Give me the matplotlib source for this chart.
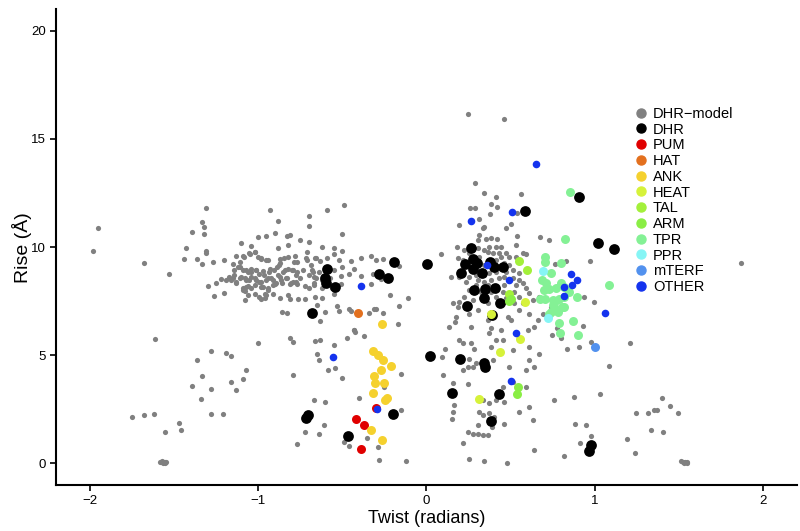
import matplotlib
matplotlib.use("Agg")
import matplotlib.pyplot as plt
from matplotlib.lines import Line2D
import numpy as np

plt.rcParams['font.family'] = ['Liberation Sans', 'DejaVu Sans']

# (twist, rise) pairs
dhr_model = np.array([
    # far left / lower left
    (-1.95, 10.87), (-1.98, 9.80), (-1.68, 9.28), (-1.53, 8.78),
    (-1.61, 5.73), (-1.28, 5.19), (-1.36, 4.78), (-1.19, 5.11), (-1.16, 4.95), (-1.07, 4.34),
    (-1.33, 4.04), (-1.39, 3.60), (-1.28, 3.44), (-1.16, 3.78), (-1.09, 3.92), (-1.13, 3.41),
    (-1.34, 3.00), (-1.28, 2.28), (-1.21, 2.27), (-1.75, 2.14), (-1.68, 2.22), (-1.62, 2.28),
    (-1.47, 1.87), (-1.46, 1.56), (-1.55, 1.45),
    (-1.58, 0.05), (-1.565, 0.00), (-1.55, 0.08), (-1.57, 0.10), (-1.555, 0.02), (-1.545, 0.05),
    # left cluster
    (-1.31, 11.79), (-0.93, 11.70), (-0.59, 11.73), (-0.49, 11.96), (-0.70, 11.43), (-1.33, 11.14),
    (-1.32, 10.91), (-1.32, 10.63), (-1.39, 10.71), (-0.88, 11.19), (-0.70, 10.97), (-0.50, 10.60),
    (-1.00, 10.48), (-0.95, 10.52), (-0.90, 10.66), (-0.83, 10.51), (-0.81, 10.58), (-0.75, 10.32),
    (-0.70, 10.26), (-1.10, 10.17), (-1.04, 10.06), (-0.82, 10.11), (-1.43, 9.94), (-1.31, 9.84),
    (-1.31, 9.72), (-0.88, 9.94), (-0.62, 10.00), (-0.55, 9.97), (-0.50, 9.83), (-0.71, 9.78),
    (-0.78, 9.58), (-1.44, 9.44), (-1.36, 9.44), (-1.33, 9.24), (-1.27, 9.32), (-1.20, 9.40),
    (-1.13, 9.58), (-1.09, 9.58), (-1.05, 9.67), (-1.02, 9.78), (-0.98, 9.43), (-0.94, 9.40),
    (-0.87, 9.44), (-0.82, 9.55), (-0.77, 9.32), (-0.71, 9.40), (-0.66, 9.52), (-0.63, 9.37),
    (-0.59, 9.52), (-0.55, 9.67), (-0.52, 9.40), (-0.45, 9.34), (-0.39, 9.52), (-0.33, 9.60),
    (-0.30, 9.40), (-0.26, 9.44), (-0.43, 9.01), (-0.39, 8.66), (-0.32, 8.75), (-0.27, 8.52),
    (-1.15, 9.24), (-1.14, 8.96), (-1.11, 9.06), (-1.07, 8.93), (-1.04, 8.86), (-1.01, 8.96),
    (-0.97, 8.90), (-0.93, 9.01), (-0.89, 9.06), (-0.87, 9.27), (-0.84, 8.93), (-0.80, 8.96),
    (-0.77, 8.86), (-0.73, 8.96), (-0.68, 8.96), (-0.64, 8.86), (-0.55, 8.93), (-0.50, 9.06),
    (-0.46, 8.78), (-1.17, 8.63), (-1.15, 8.55), (-1.10, 8.63), (-1.07, 8.50), (-1.04, 8.63),
    (-1.01, 8.47), (-0.98, 8.39), (-0.94, 8.59), (-0.91, 8.50), (-0.87, 8.63), (-0.83, 8.55),
    (-0.79, 8.39), (-0.75, 8.59), (-0.70, 8.70), (-0.67, 8.63), (-0.62, 8.47), (-0.57, 8.55),
    (-0.51, 8.66), (-1.25, 8.35), (-1.22, 8.52), (-1.19, 8.47), (-1.13, 8.32), (-1.09, 8.13),
    (-1.06, 8.19), (-1.02, 8.24), (-0.98, 8.16), (-0.94, 8.04), (-0.90, 8.29), (-0.86, 8.32),
    (-0.81, 8.29), (-0.77, 8.29), (-0.72, 8.19), (-0.67, 8.32), (-0.62, 8.13), (-0.56, 8.09),
    (-0.51, 8.29), (-1.30, 8.19), (-1.26, 7.73), (-1.20, 7.88), (-1.08, 7.96), (-1.06, 7.78),
    (-1.02, 7.85), (-0.96, 7.85), (-0.96, 7.67), (-0.91, 7.82), (-0.87, 7.67), (-0.82, 7.78),
    (-0.81, 7.58), (-0.76, 7.62), (-0.72, 7.61), (-0.66, 7.70), (-0.62, 7.67), (-0.55, 7.85),
    (-1.08, 7.55), (-0.98, 7.62), (-0.39, 8.19), (-0.33, 8.29), (-0.86, 6.99), (-0.83, 6.96),
    (-0.65, 7.31), (-0.60, 7.01), (-0.53, 7.27), (-0.52, 7.05), (-0.45, 7.05), (-0.31, 7.14),
    (-0.34, 6.96), (-0.63, 6.57), (-0.43, 6.19), (-0.26, 6.96), (-0.30, 7.12), (-0.46, 7.12),
    # left cluster core
    (-1.110, 9.32), (-1.081, 9.55), (-1.051, 9.71), (-1.021, 9.79), (-1.001, 9.55), (-0.982, 9.48),
    (-0.952, 9.40), (-1.120, 9.09), (-1.091, 8.94), (-1.061, 8.86), (-1.041, 9.01), (-1.011, 8.94),
    (-0.992, 8.78), (-0.962, 8.71), (-0.932, 8.86), (-0.903, 8.94), (-0.883, 8.71), (-0.853, 8.86),
    (-0.824, 9.01), (-0.794, 8.94), (-0.774, 8.71), (-1.140, 8.71), (-1.110, 8.55), (-1.075, 8.55),
    (-1.051, 8.47), (-1.021, 8.55), (-0.992, 8.40), (-0.952, 8.47), (-0.922, 8.55), (-0.893, 8.32),
    (-0.863, 8.47), (-0.833, 8.55), (-0.804, 8.32), (-0.774, 8.40), (-1.071, 8.17), (-1.041, 8.09),
    (-0.972, 8.17), (-0.942, 8.09), (-0.912, 8.24), (-1.130, 8.40), (-1.160, 8.47), (-1.091, 8.01),
    (-0.952, 7.78), (-0.992, 7.70), (-0.873, 9.17), (-0.843, 9.48), (-0.784, 9.32), (-0.715, 9.48),
    (-0.685, 9.17), (-0.655, 9.48), (-0.675, 8.86), (-0.655, 8.55), (-0.695, 8.09), (-0.665, 8.24),
    # between clusters, lower middle-left
    (-1.00, 5.57), (-0.81, 5.78), (-0.79, 5.62), (-0.66, 5.65), (-0.63, 5.70), (-0.55, 5.47),
    (-0.43, 6.16), (-0.425, 6.08), (-0.47, 5.80), (-0.37, 5.90), (-0.65, 5.08), (-0.64, 4.77),
    (-0.585, 4.34), (-0.54, 4.39), (-0.79, 4.08), (-0.50, 3.97), (-0.15, 4.12), (-0.40, 3.03),
    (-0.25, 3.54), (-0.15, 2.46), (-0.67, 2.92), (-0.60, 2.84), (-0.61, 1.76), (-0.64, 1.38),
    (-0.72, 1.45), (-0.77, 0.90), (-0.49, 0.98), (-0.46, 0.82), (-0.35, 1.18), (-0.29, 0.76),
    (-0.28, 0.17), (-0.12, 0.13), (-0.215, 7.80), (-0.16, 7.30), (-0.11, 7.64), (-0.16, 9.12),
    (-0.17, 6.46),
    # centre cluster
    (0.25, 16.16), (0.46, 15.93), (0.29, 12.98), (0.34, 12.49), (0.415, 12.34), (0.56, 12.46),
    (0.26, 11.80), (0.29, 11.83), (0.386, 12.00), (0.42, 11.87), (0.38, 11.52), (0.315, 11.29),
    (0.54, 11.56), (0.196, 11.02), (0.334, 10.87), (0.344, 10.95), (0.50, 11.07), (0.473, 10.87),
    (0.315, 10.56), (0.538, 10.51),
    (0.305, 10.33), (0.354, 10.36), (0.384, 10.41), (0.417, 10.36), (0.443, 10.02), (0.413, 10.02),
    (0.374, 10.02), (0.180, 10.02), (0.226, 9.87), (0.087, 9.67), (0.190, 9.48), (0.216, 9.40),
    (0.255, 9.71), (0.305, 9.94), (0.344, 9.87), (0.364, 9.79), (0.394, 9.71), (0.433, 9.71),
    (0.473, 9.74), (0.315, 9.56), (0.443, 9.56), (0.489, 9.56), (0.532, 10.10), (0.532, 9.56),
    (0.572, 9.71), (0.591, 9.68), (0.677, 10.48), (0.730, 10.33), (0.315, 9.25), (0.344, 9.17),
    (0.374, 9.33), (0.413, 9.40), (0.433, 9.10), (0.463, 9.25), (0.493, 9.17), (0.512, 8.94),
    (0.552, 8.79), (0.473, 8.86), (0.413, 8.86), (0.374, 8.79), (0.344, 8.71), (0.295, 8.71),
    (0.255, 8.63), (0.305, 8.48), (0.344, 8.40), (0.384, 8.48), (0.433, 8.56), (0.463, 8.63),
    (0.512, 8.56), (0.552, 8.48), (0.295, 8.25), (0.364, 8.25), (0.413, 8.17), (0.463, 8.25),
    (0.532, 8.25), (0.572, 8.32), (0.235, 8.40), (0.196, 8.63), (0.146, 8.63), (0.255, 8.02),
    (0.324, 7.94), (0.384, 7.94), (0.453, 7.94), (0.522, 7.94), (0.591, 8.09), (0.611, 7.86),
    (0.226, 7.71), (0.275, 7.55), (0.413, 7.71), (0.473, 7.63), (0.552, 7.71), (0.196, 7.47),
    (0.156, 7.40), (0.364, 7.40), (0.453, 7.40), (0.522, 7.40), (0.631, 7.55), (0.572, 7.40),
    (0.671, 7.71), (0.186, 7.24), (0.176, 6.78), (0.172, 6.55), (0.136, 6.32), (0.255, 6.93),
    (0.305, 7.09), (0.265, 6.32), (0.364, 6.63), (0.384, 6.24), (0.374, 6.01), (0.443, 6.16),
    (0.483, 6.78), (0.502, 6.63), (0.552, 7.09), (0.611, 6.93), (0.641, 6.32), (0.661, 6.63),
    (0.601, 6.16), (0.690, 6.93), (0.740, 7.24), (0.413, 5.70), (0.453, 5.70), (0.196, 5.70),
    (0.216, 5.55), (0.265, 5.55), (0.113, 5.31), (0.285, 5.31), (0.384, 5.39), (0.512, 5.24),
    (0.611, 5.39), (0.671, 5.08), (0.255, 4.85), (0.295, 4.62), (0.091, 4.93), (0.216, 4.31),
    (0.245, 4.47), (0.275, 4.47), (0.394, 4.77), (0.493, 4.47), (0.611, 4.77), (0.591, 4.31),
    (0.097, 4.08), (0.156, 3.72), (0.245, 3.69), (0.334, 2.92), (0.374, 2.77), (0.463, 2.85),
    (0.552, 2.38), (0.611, 2.61), (0.631, 2.00), (0.166, 2.69), (0.156, 2.38), (0.152, 2.04),
    (0.315, 2.38), (0.334, 2.23), (0.404, 2.15), (0.374, 2.31), (0.305, 1.77), (0.245, 1.46),
    (0.275, 1.38), (0.305, 1.35), (0.334, 1.30), (0.463, 1.84), (0.216, 0.92), (0.641, 0.64),
    (0.255, 0.22), (0.344, 0.11), (0.477, 0.04), (0.364, 1.30), (0.390, 1.66), (0.413, 2.92),
    (0.453, 3.54), (0.512, 3.77), (0.591, 3.54), (0.760, 2.92), (0.641, 4.47),
    # right side
    (1.87, 9.25), (0.973, 9.36), (0.764, 9.22), (0.829, 9.36), (0.938, 7.71), (0.997, 7.46),
    (0.928, 6.35), (0.746, 5.93), (0.799, 5.78), (0.773, 6.24), (0.833, 5.31), (0.904, 5.39),
    (0.975, 5.62), (1.211, 5.58), (1.082, 4.51), (0.878, 3.05), (1.029, 3.22), (0.880, 1.84),
    (0.948, 1.77), (0.979, 1.26), (0.912, 0.92), (0.815, 0.33), (1.189, 1.15), (1.240, 0.48),
    (1.246, 2.34), (1.319, 2.31), (1.349, 2.49), (1.367, 2.46), (1.397, 3.03), (1.446, 2.65),
    (1.494, 2.34), (1.335, 1.53), (1.408, 1.46),
    (1.51, 0.10), (1.525, 0.05), (1.535, 0.08), (1.545, 0.03), (1.53, 0.00), (1.55, 0.06),
])

dhr = np.array([
    (-0.590, 8.98), (-0.603, 8.58), (-0.596, 8.32), (-0.540, 8.16), (-0.283, 8.75), (-0.228, 8.57),
    (-0.192, 9.32), (0.004, 9.22), (-0.680, 6.96), (-0.704, 2.23), (-0.714, 2.12), (-0.201, 2.27),
    (-0.465, 1.28), (0.020, 4.95), (0.153, 3.26),
    (0.265, 9.94), (0.229, 9.20), (0.279, 9.43), (0.299, 9.25), (0.275, 8.97), (0.206, 8.82),
    (0.328, 8.82), (0.380, 9.30), (0.404, 9.10), (0.453, 9.10), (0.285, 8.02), (0.350, 8.05),
    (0.406, 8.09), (0.340, 7.64), (0.241, 7.29), (0.437, 7.40), (0.390, 6.86), (0.202, 4.81),
    (0.340, 4.65), (0.346, 4.47), (0.429, 3.20), (0.384, 1.95), (0.586, 11.69), (0.904, 12.30),
    (1.019, 10.21), (1.112, 9.90), (0.979, 0.84), (0.965, 0.56),
])
pum = np.array([(-0.417, 2.03), (-0.370, 1.79), (-0.387, 0.68), (-0.300, 2.58)])
hat = np.array([(-0.407, 6.96)])
ank = np.array([
    (-0.261, 6.45), (-0.316, 5.20), (-0.287, 4.99), (-0.255, 4.77), (-0.209, 4.51), (-0.269, 4.34),
    (-0.314, 4.03), (-0.308, 3.74), (-0.253, 3.72), (-0.316, 3.26), (-0.233, 3.04), (-0.243, 2.92),
    (-0.330, 1.56), (-0.263, 1.07),
])
heat = np.array([(0.384, 6.93), (0.587, 7.44), (0.558, 5.76), (0.437, 5.17), (0.311, 2.97)])
tal = np.array([(0.548, 9.36), (0.595, 8.94), (0.493, 7.81)])
arm = np.array([(0.502, 7.58), (0.489, 7.50), (0.542, 3.51), (0.538, 3.23)])
tpr = np.array([
    (0.852, 12.55), (0.821, 10.39), (1.082, 8.23), (0.704, 9.56), (0.706, 9.33), (0.740, 8.82),
    (0.799, 9.25), (0.686, 8.48), (0.710, 8.35), (0.769, 8.09), (0.799, 8.35), (0.819, 8.17),
    (0.696, 8.02), (0.730, 8.05), (0.674, 7.58), (0.706, 7.58), (0.750, 7.55), (0.789, 7.58),
    (0.819, 7.71), (0.845, 7.94), (0.892, 7.68), (0.750, 7.32), (0.765, 7.12), (0.805, 7.24),
    (0.740, 7.01), (0.779, 7.01), (0.819, 7.24), (0.785, 6.50), (0.868, 6.60), (0.795, 6.01),
    (0.900, 5.95), (0.730, 6.93), (0.760, 7.40),
])
ppr = np.array([(0.690, 8.91), (0.720, 6.70)])
mterf = np.array([(1.000, 5.39)])
other = np.array([
    (-0.391, 8.18), (-0.552, 4.90), (-0.294, 2.52), (0.651, 13.83), (0.506, 11.64), (0.265, 11.22),
    (0.362, 9.18), (0.492, 8.48), (0.858, 8.76), (0.864, 8.23), (0.896, 8.48), (0.815, 8.14),
    (0.819, 7.74), (1.058, 6.97), (0.530, 6.05), (0.502, 3.80),
])

labels = ["DHR\u2212model", "DHR", "PUM", "HAT", "ANK", "HEAT", "TAL", "ARM", "TPR", "PPR", "mTERF", "OTHER"]
colors = ["#808080", "#000000", "#E00000", "#E3701E", "#F5D12E", "#D6F23A", "#A3F03A",
          "#8AEE45", "#84F195", "#86F5F5", "#5291EE", "#1433EE"]
groups = [dhr_model, dhr, pum, hat, ank, heat, tal, arm, tpr, ppr, mterf, other]
sizes = [14, 60, 42, 42, 42, 42, 42, 42, 42, 42, 42, 30]

fig = plt.figure(figsize=(8, 5.31), dpi=100)
ax = fig.add_axes([0.07, 0.0866, 0.926, 0.896])

for pts, c, s in zip(groups, colors, sizes):
    ax.scatter(pts[:, 0], pts[:, 1], s=s, c=c, linewidths=0, zorder=3)

ax.set_xlim(-2.2, 2.2)
ax.set_ylim(-1, 21)
ax.set_xticks([-2, -1, 0, 1, 2])
ax.set_yticks([0, 5, 10, 15, 20])
for side in ["top", "right"]:
    ax.spines[side].set_visible(False)
for side in ["left", "bottom"]:
    ax.spines[side].set_linewidth(1.5)
ax.tick_params(length=4, width=1.2, labelsize=9.5, colors="black")
ax.set_xlabel("Twist (radians)", fontsize=13, labelpad=2)
ax.set_ylabel("Rise (Å)", fontsize=14, labelpad=-1)

handles = [Line2D([], [], marker="o", linestyle="", color=c, markersize=6.5) for c in colors]
leg = fig.legend(handles, labels, loc="upper left", bbox_to_anchor=(0.778, 0.818),
                 fontsize=10.5, frameon=False, labelspacing=0.12, handletextpad=0.2,
                 handlelength=1.2, borderpad=0.2)

plt.savefig("out.png", dpi=100)
plt.close()
